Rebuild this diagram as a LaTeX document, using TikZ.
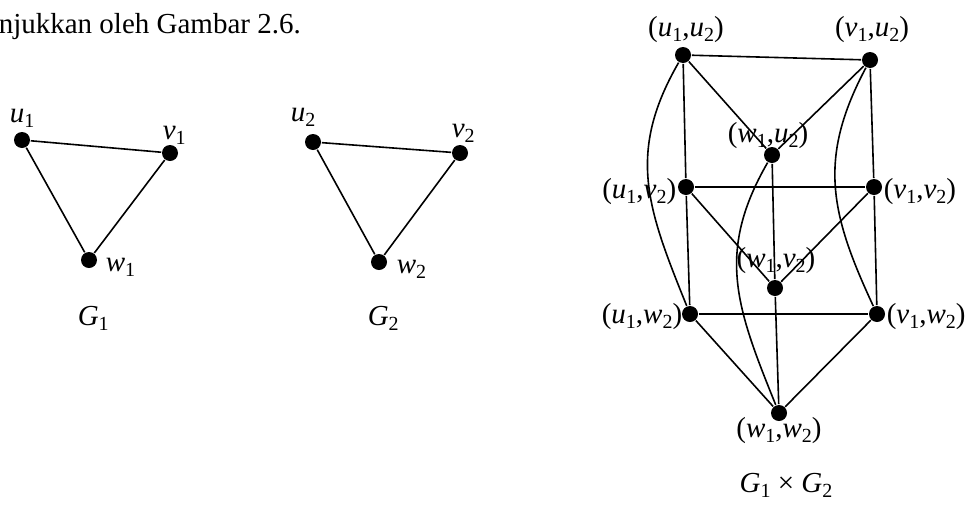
\documentclass[tikz,border=0pt]{standalone}
\usepackage{fontspec}
\setmainfont{Liberation Serif}
\newcommand{\vl}[2]{\textit{#1}\raisebox{-0.2em}{\fontsize{20}{20}\selectfont #2}}
\begin{document}
\begin{tikzpicture}[x=1pt,y=-1pt,line width=1.6pt,
        dot/.style={circle,fill=black,inner sep=0pt,minimum size=16pt},
        lab/.style={inner sep=0pt,font=\fontsize{29}{34}\selectfont}]
        \useasboundingbox (0,0) rectangle (975,504);
        % Text line
        \node[lab,anchor=base west] (txt) at (-2,33) {njukkan oleh Gambar 2.6.};
        % Define node positions G1
        \node[dot] (u1) at (22,140) {}; \node[dot] (v1) at (170,153) {};
        \node[dot] (w1) at (89,260) {};
        % Define node positions G2
        \node[dot] (u2) at (313,142) {}; \node[dot] (v2) at (460,153) {};
        \node[dot] (w2) at (379,262) {};
        % Define node positions G1 x G2
        \node[dot] (uu) at (683,55) {}; \node[dot] (vu) at (870,60) {};
        \node[dot] (wu) at (772,155) {};
        \node[dot] (uv) at (686,187) {}; \node[dot] (vv) at (874,187) {};
        \node[dot] (wv) at (775,288) {};
        \node[dot] (uw) at (690,314) {}; \node[dot] (vw) at (877,314) {};
        \node[dot] (ww) at (779,413) {};
        % Labels
        \node[lab,anchor=base west] (lu1) at (9,122) {\vl{u}{1}};
        \node[lab,anchor=base west] (lv1) at (162,139) {\vl{v}{1}};
        \node[lab,anchor=base west] (lw1) at (105,271) {\vl{w}{1}};
        \node[lab,anchor=base west] (lu2) at (290,121) {\vl{u}{2}};
        \node[lab,anchor=base west] (lv2) at (451,137) {\vl{v}{2}};
        \node[lab,anchor=base west] (lw2) at (396,273) {\vl{w}{2}};
        \node[lab,anchor=base west] (g1) at (77,325) {\vl{G}{1}};
        \node[lab,anchor=base west] (g2) at (367,325) {\vl{G}{2}};
        \node[lab,anchor=base] (luu) at (686,36) {(\vl{u}{1},\vl{u}{2})};
        \node[lab,anchor=base] (lvu) at (872,36) {(\vl{v}{1},\vl{u}{2})};
        \node[lab,anchor=base] (lwu) at (768,142) {(\vl{w}{1},\vl{u}{2})};
        \node[lab,anchor=base east] (luv) at (677,198) {(\vl{u}{1},\vl{v}{2})};
        \node[lab,anchor=base west] (lvv) at (883,198) {(\vl{v}{1},\vl{v}{2})};
        \node[lab,anchor=base] (lwv) at (776,267) {(\vl{w}{1},\vl{v}{2})};
        \node[lab,anchor=base east] (luw) at (683,323) {(\vl{u}{1},\vl{w}{2})};
        \node[lab,anchor=base west] (lvw) at (886,323) {(\vl{v}{1},\vl{w}{2})};
        \node[lab,anchor=base] (lww) at (779,437) {(\vl{w}{1},\vl{w}{2})};
        \node[lab,anchor=base] (gg) at (786,492) {\vl{G}{1} × \vl{G}{2}};
        % Draw edges G1 and G2
        \draw (u1) -- (v1) -- (w1) -- (u1);
        \draw (u2) -- (v2) -- (w2) -- (u2);
        % Draw edges G1 x G2
        \draw (uu) -- (vu); \draw (uu) -- (wu); \draw (vu) -- (wu);
        \draw (uv) -- (vv); \draw (uv) -- (wv); \draw (vv) -- (wv);
        \draw (uw) -- (vw); \draw (uw) -- (ww); \draw (vw) -- (ww);
        \draw (uu) -- (uv); \draw (uv) -- (uw);
        \draw (vu) -- (vv); \draw (vv) -- (vw);
        \draw (wu) -- (wv); \draw (wv) -- (ww);
        \draw (uu) to[out=240,in=112,looseness=1.1] (uw);
        \draw (vu) to[out=242,in=115,looseness=1.1] (vw);
        \draw (wu) to[out=240,in=112,looseness=1.1] (ww);
    \end{tikzpicture}
\end{document}
